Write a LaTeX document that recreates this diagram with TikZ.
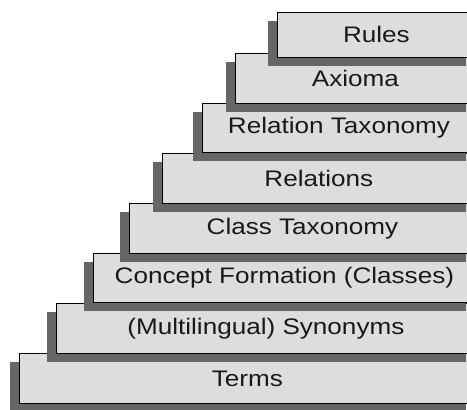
\documentclass[tikz,border=0pt]{standalone}
\usepackage{fontspec}
\setmainfont[FakeStretch=1.16]{Liberation Sans}
\usetikzlibrary{shadows}
\definecolor{boxfill}{HTML}{DDDDDD}
\definecolor{shadowgray}{HTML}{666666}
\begin{document}
\begin{tikzpicture}[x=1pt,y=-1pt,
  layer/.style={draw=black, line width=0.8pt, fill=boxfill, anchor=north west,
    inner sep=0pt, font=\fontsize{22.5}{27}\selectfont, text=black!90,
    drop shadow={shadow xshift=-9pt, shadow yshift=-9pt, fill=shadowgray, opacity=1}}]
\useasboundingbox (0,0) rectangle (467,410);
\clip (0,0) rectangle (467,410);
\node[layer, minimum width=456pt, minimum height=50pt] (terms) at (19,353) {Terms};
\node[layer, minimum width=419pt, minimum height=50pt] (syn) at (56,303) {(Multilingual) Synonyms};
\node[layer, minimum width=382pt, minimum height=49pt] (concept) at (93,253) {Concept Formation (Classes)};
\node[layer, minimum width=346pt, minimum height=50pt] (classtax) at (129,203) {Class Taxonomy};
\node[layer, minimum width=313pt, minimum height=50pt] (relations) at (162,153) {Relations};
\node[layer, minimum width=273pt, minimum height=49pt] (reltax) at (202,103) {Relation Taxonomy};
\node[layer, minimum width=240pt, minimum height=50pt] (axioma) at (235,53) {Axioma};
\node[layer, minimum width=198pt, minimum height=45pt] (rules) at (277,12) {Rules};
\end{tikzpicture}
\end{document}
